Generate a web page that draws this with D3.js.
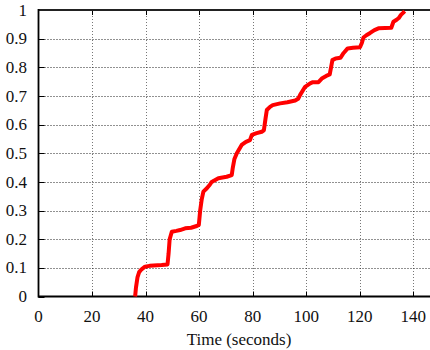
<!DOCTYPE html>
<html><head><meta charset="utf-8">
<script src="https://cdn.jsdelivr.net/npm/d3@7"></script>
<style>body{margin:0;background:#fff;} svg{display:block;} text{font-family:"Liberation Serif","DejaVu Serif",serif;}</style>
</head><body>
<svg id="c" width="430" height="350"></svg>
<script>
const timeSec = [36.1,36.4,37.0,37.6,38.5,39.8,41.5,43.0,46.0,48.2,48.6,49.0,49.8,51.5,52.9,54.8,57.0,59.1,59.9,60.4,61.0,61.6,62.9,64.0,64.7,67.2,70.3,72.2,72.6,73.2,74.1,75.9,77.5,79.0,79.7,81.5,83.4,84.2,84.8,85.3,86.5,87.5,90.3,93.0,95.9,97.0,97.7,99.6,101.5,102.5,104.6,106.0,107.5,108.8,109.3,109.8,111.0,112.8,114.0,115.5,117.5,120.1,120.8,121.4,122.5,123.9,125.5,127.0,129.5,131.8,132.6,133.8,134.6,135.4,136.3,136.8];
const cdfValue = [0.0,0.03,0.068,0.085,0.095,0.104,0.107,0.108,0.11,0.112,0.15,0.2,0.226,0.229,0.232,0.238,0.24,0.246,0.25,0.3,0.34,0.366,0.378,0.39,0.40,0.413,0.418,0.424,0.45,0.48,0.50,0.529,0.54,0.546,0.564,0.57,0.575,0.58,0.62,0.651,0.662,0.668,0.674,0.678,0.684,0.69,0.703,0.732,0.744,0.748,0.748,0.762,0.77,0.775,0.80,0.825,0.831,0.833,0.85,0.866,0.868,0.87,0.885,0.904,0.912,0.92,0.93,0.936,0.937,0.938,0.959,0.966,0.972,0.983,0.991,0.996];
const xTicks = [0,20,40,60,80,100,120,140];
const yTicks = [0,0.1,0.2,0.3,0.4,0.5,0.6,0.7,0.8,0.9,1];
const xLabel = "Time (seconds)";

const svg = d3.select("#c");
const x = d3.scaleLinear().domain([0,150]).range([38.5,440]);
const y = d3.scaleLinear().domain([0,1]).range([296.5,10]);

const g = svg.append("g");
g.selectAll(".gx").data(xTicks.filter(d=>d>0)).enter().append("line")
  .attr("x1",d=>Math.round(x(d))+0.5).attr("x2",d=>Math.round(x(d))+0.5)
  .attr("y1",y(1)).attr("y2",y(0))
  .attr("stroke","#777").attr("stroke-width",1).attr("stroke-dasharray","1,2");
g.selectAll(".gy").data(yTicks.filter(d=>d>0&&d<1)).enter().append("line")
  .attr("x1",x(0)).attr("x2",440)
  .attr("y1",d=>Math.round(y(d))+0.5).attr("y2",d=>Math.round(y(d))+0.5)
  .attr("stroke","#222").attr("stroke-width",1).attr("stroke-dasharray","1,2");

g.selectAll(".tb").data(xTicks.filter(d=>d>0)).enter().append("line")
  .attr("x1",d=>Math.round(x(d))+0.5).attr("x2",d=>Math.round(x(d))+0.5)
  .attr("y1",y(0)).attr("y2",y(0)-5).attr("stroke","#000").attr("stroke-width",1);
g.selectAll(".tt").data(xTicks.filter(d=>d>0)).enter().append("line")
  .attr("x1",d=>Math.round(x(d))+0.5).attr("x2",d=>Math.round(x(d))+0.5)
  .attr("y1",y(1)).attr("y2",y(1)+5).attr("stroke","#000").attr("stroke-width",1);
g.selectAll(".tl").data(yTicks).enter().append("line")
  .attr("x1",x(0)).attr("x2",x(0)+6)
  .attr("y1",d=>Math.round(y(d))+0.5).attr("y2",d=>Math.round(y(d))+0.5)
  .attr("stroke","#000").attr("stroke-width",1);

svg.append("line").attr("x1",x(0)).attr("x2",440).attr("y1",y(1)).attr("y2",y(1))
  .attr("stroke","#222").attr("stroke-width",2.2);
svg.append("line").attr("x1",x(0)).attr("x2",440).attr("y1",y(0)).attr("y2",y(0))
  .attr("stroke","#000").attr("stroke-width",1.8);
svg.append("line").attr("x1",x(0)).attr("x2",x(0)).attr("y1",y(1)-1).attr("y2",y(0)+1)
  .attr("stroke","#000").attr("stroke-width",1.8);

svg.selectAll(".xl").data(xTicks).enter().append("text")
  .attr("x",d=>x(d)).attr("y",322).attr("text-anchor","middle")
  .attr("font-size",17).attr("fill","#111")
  .text(d=>d);
svg.selectAll(".yl").data(yTicks).enter().append("text")
  .attr("x",27).attr("y",d=>y(d)).attr("dy","0.33em").attr("text-anchor","end")
  .attr("font-size",17).attr("fill","#111")
  .text(d=>d);
svg.append("text").attr("x",239).attr("y",345).attr("text-anchor","middle")
  .attr("font-size",17).attr("fill","#111").text(xLabel);

const pts = timeSec.map((t,i)=>[t,cdfValue[i]]);
svg.append("path").datum(pts)
  .attr("d",d3.line().x(d=>x(d[0])).y(d=>y(d[1])))
  .attr("fill","none").attr("stroke","#ff0000").attr("stroke-width",4)
  .attr("stroke-linejoin","round");
</script>
</body></html>
